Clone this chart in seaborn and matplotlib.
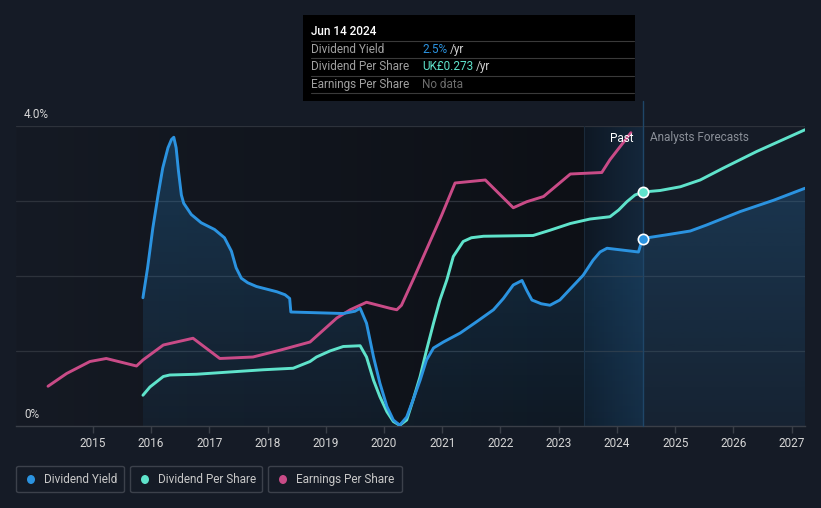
import numpy as np
import pandas as pd
import matplotlib
matplotlib.use("Agg")
import matplotlib.pyplot as plt
import seaborn as sns
from matplotlib.colors import to_rgb
from matplotlib.patches import FancyBboxPatch, Rectangle, Ellipse

# ---------------- data ----------------
yield_years = [2015.86, 2015.94, 2016.03, 2016.12, 2016.20, 2016.29, 2016.35, 2016.39, 2016.43,
               2016.47, 2016.52, 2016.56, 2016.69, 2016.86, 2017.09, 2017.26, 2017.38, 2017.46,
               2017.55, 2017.66, 2017.81, 2018.16, 2018.30, 2018.38, 2018.40, 2019.30, 2019.50,
               2019.59, 2019.70, 2019.82, 2019.93, 2020.05, 2020.16, 2020.27, 2020.39, 2020.50,
               2020.62, 2020.73, 2020.85, 2021.02, 2021.31, 2021.59, 2021.88, 2022.05, 2022.22,
               2022.37, 2022.45, 2022.54, 2022.70, 2022.85, 2023.02, 2023.42, 2023.59, 2023.71,
               2023.83, 2024.37, 2024.44, 2024.86, 2025.26, 2025.54, 2026.12, 2026.69, 2027.23]
yield_vals = [1.71, 2.11, 2.64, 3.08, 3.44, 3.71, 3.82, 3.85, 3.71,
              3.40, 3.08, 2.97, 2.82, 2.71, 2.62, 2.51, 2.33, 2.11,
              1.97, 1.91, 1.86, 1.79, 1.75, 1.70, 1.52, 1.50, 1.53,
              1.57, 1.37, 0.92, 0.57, 0.26, 0.08, 0.01, 0.12, 0.35,
              0.61, 0.88, 1.04, 1.12, 1.24, 1.39, 1.55, 1.70, 1.88,
              1.94, 1.81, 1.68, 1.63, 1.61, 1.68, 2.01, 2.21, 2.32,
              2.37, 2.32, 2.50, 2.55, 2.60, 2.68, 2.86, 3.01, 3.17]

dps_years = [2015.86, 2015.98, 2016.21, 2016.32, 2016.78, 2017.35, 2017.93, 2018.44, 2018.73,
             2018.84, 2019.07, 2019.30, 2019.59, 2019.70, 2019.82, 2019.93, 2020.05, 2020.16,
             2020.27, 2020.39, 2020.50, 2020.62, 2020.73, 2020.85, 2020.96, 2021.08, 2021.19,
             2021.36, 2021.50, 2021.71, 2022.56, 2022.85, 2023.20, 2023.54, 2023.88, 2024.03,
             2024.17, 2024.31, 2024.45, 2024.74, 2025.09, 2025.43, 2025.83, 2026.40, 2027.23]
dps_vals = [0.41, 0.52, 0.66, 0.68, 0.69, 0.72, 0.75, 0.77, 0.86,
            0.92, 1.00, 1.06, 1.07, 0.92, 0.61, 0.39, 0.19, 0.06,
            0.01, 0.08, 0.35, 0.66, 1.01, 1.37, 1.68, 1.95, 2.26,
            2.46, 2.51, 2.53, 2.54, 2.61, 2.70, 2.76, 2.79, 2.88,
            2.99, 3.08, 3.12, 3.14, 3.19, 3.28, 3.44, 3.66, 3.95]

eps_years = [2014.23, 2014.55, 2014.95, 2015.23, 2015.75, 2015.86, 2016.21, 2016.72, 2017.18,
             2017.75, 2018.21, 2018.73, 2019.19, 2019.42, 2019.70, 2020.10, 2020.22, 2020.30,
             2020.50, 2020.99, 2021.22, 2021.74, 2022.22, 2022.45, 2022.74, 2023.20, 2023.74,
             2023.88, 2024.24]
eps_vals = [0.53, 0.70, 0.86, 0.90, 0.80, 0.88, 1.08, 1.17, 0.90,
            0.92, 1.01, 1.12, 1.44, 1.55, 1.65, 1.57, 1.55, 1.61,
            1.95, 2.81, 3.24, 3.28, 2.91, 2.99, 3.06, 3.36, 3.38,
            3.55, 3.91]

series_names = ["Dividend Yield", "Dividend Per Share", "Earnings Per Share"]
series_colors = ["#2b93e0", "#5fe3cb", "#c94b87"]
x_ticks = list(range(2015, 2028))
now_year = 2024.45
past_start = 2023.44
marker_yield = 2.50
marker_dps = 3.12

tooltip_date = "Jun 14 2024"
tooltip_rows = [("Dividend Yield", "2.5%", "/yr"),
                ("Dividend Per Share", "UK£0.273", "/yr"),
                ("Earnings Per Share", "No data", "")]

# ---------------- styling ----------------
BG = "#151b26"
sns.set_theme(style="dark", rc={"axes.facecolor": BG, "figure.facecolor": BG})
plt.rcParams["font.family"] = ["Roboto", "DejaVu Sans"]

W, H = 821, 508
fig = plt.figure(figsize=(W / 100, H / 100), dpi=100)
fig.patch.set_facecolor(BG)

def px(x, y):
    return (x / W, 1 - y / H)

ax_l, ax_r, ax_t, ax_b = 16, 805, 126, 426
ax = fig.add_axes([ax_l / W, 1 - ax_b / H, (ax_r - ax_l) / W, (ax_b - ax_t) / H])
ax.set_facecolor(BG)
XMIN, XMAX = 2013.68, 2027.23
YMIN, YMAX = 0, 4.0

# background gradient in the past region (bg -> darker)
c1, c2 = np.array(to_rgb("#151a24")), np.array(to_rgb("#0d1016"))
t = np.linspace(0, 1, 256)[None, :, None]
ax.imshow(c1 + (c2 - c1) * t, extent=[XMIN, past_start, YMIN, YMAX], aspect="auto", zorder=0, origin="lower")
c3, c4 = np.array(to_rgb("#0e1824")), np.array(to_rgb("#14273b"))
ax.imshow(c3 + (c4 - c3) * t, extent=[past_start, now_year, YMIN, YMAX], aspect="auto", zorder=0, origin="lower")

for gy in [1, 2, 3, 4]:
    ax.axhline(gy, color="#2d323b", lw=0.9, zorder=1)

# filled area under the dividend yield (vertical gradient)
poly = ax.fill_between(yield_years, yield_vals, 0, color="none", lw=0, zorder=2)
blue = np.array(to_rgb(series_colors[0]))
rgba = np.zeros((256, 1, 4))
rgba[..., :3] = blue
rgba[..., 3] = np.linspace(0.07, 0.26, 256)[:, None]
im = ax.imshow(rgba, extent=[XMIN, XMAX, YMIN, YMAX], aspect="auto", origin="lower", zorder=2)
im.set_clip_path(poly.get_paths()[0], transform=ax.transData)

df = pd.concat([
    pd.DataFrame({"year": yield_years, "value": yield_vals, "series": series_names[0]}),
    pd.DataFrame({"year": dps_years, "value": dps_vals, "series": series_names[1]}),
    pd.DataFrame({"year": eps_years, "value": eps_vals, "series": series_names[2]}),
])
sns.lineplot(data=df, x="year", y="value", hue="series", palette=dict(zip(series_names, series_colors)),
             hue_order=series_names[::-1], sort=True, estimator=None, lw=2.1, legend=False, ax=ax, zorder=4)
for ln in ax.lines:
    ln.set_solid_joinstyle("round")
    ln.set_solid_capstyle("round")

ax.axvline(past_start, color="#1a2a3a", lw=0.8, zorder=1)
ax.plot([now_year, now_year], [0, (ax_b - 101) / 75], color="#1f4668", lw=1, zorder=3, clip_on=False)

ax.scatter([now_year], [marker_dps], s=55, color=series_colors[1], edgecolor="white", lw=1.2, zorder=6)
ax.scatter([now_year], [marker_yield], s=55, color=series_colors[0], edgecolor="white", lw=1.2, zorder=6)

ax.set_xlim(XMIN, XMAX)
ax.set_ylim(YMIN, YMAX)
ax.set_xticks(x_ticks)
ax.set_xticklabels([str(v) for v in x_ticks])
ax.set_yticks([])
ax.set_xlabel("")
ax.set_ylabel("")
for s in ["top", "left", "right"]:
    ax.spines[s].set_visible(False)
ax.spines["bottom"].set_color("#3a3f48")
ax.spines["bottom"].set_linewidth(1)
ax.tick_params(axis="x", colors="#3a3f48", length=5, width=1, bottom=True, labelcolor="#d6d6d6",
               labelsize=8.5, pad=3)
ax.grid(False)

fig.text(*px(24, 114), "4.0%", color="#d6d6d6", fontsize=8.5, va="center", ha="left")
fig.text(*px(24, 414), "0%", color="#d6d6d6", fontsize=8.5, va="center", ha="left")

fig.text(*px(633, 138), "Past", color="white", fontsize=8.5, va="center", ha="right")
fig.text(*px(650, 138), "Analysts Forecasts", color="#8a8f98", fontsize=8.5, va="center", ha="left")

# tooltip
fig.patches.append(Rectangle(px(303, 101), (635 - 303) / W, (101 - 15) / H, transform=fig.transFigure,
                             facecolor="#000000", edgecolor="none", zorder=10))
fig.text(*px(311, 31.5), tooltip_date, color="white", fontsize=8.5, va="center", ha="left",
         fontweight="medium", zorder=11)
for ly in [41, 58.3, 76, 93.3]:
    fig.lines.append(plt.Line2D([311 / W, 634 / W], [1 - ly / H, 1 - ly / H], transform=fig.transFigure,
                                color="#3a3a3a", lw=0.8, zorder=11))
val_colors = [series_colors[0], series_colors[1], "#6d6d6d"]
fig.canvas.draw()
renderer = fig.canvas.get_renderer()
for i, (lab, val, unit) in enumerate(tooltip_rows):
    yy = [49.5, 66.5, 84.3][i]
    fig.text(*px(311, yy), lab, color="#a0a0a0", fontsize=8.5, va="center", ha="left", zorder=11)
    vt = fig.text(*px(422, yy), val, color=val_colors[i], fontsize=8.5, va="center", ha="left", zorder=11)
    if unit:
        x1 = vt.get_window_extent(renderer).x1
        fig.text((x1 + 3) / W, 1 - yy / H, unit, color="#d0d0d0", fontsize=8.5, va="center", ha="left",
                 zorder=11)

# legend boxes
boxes = [(16, 125), (130, 263), (268, 403)]
for (x0, x1), name, col in zip(boxes, series_names, series_colors):
    fig.patches.append(FancyBboxPatch(px(x0 + 0.5, 492.5), (x1 - x0 - 1) / W, 26 / H,
                                      boxstyle="round,pad=0,rounding_size=0.003", transform=fig.transFigure,
                                      facecolor="none", edgecolor="#3c414b", lw=1, zorder=10))
    fig.patches.append(Ellipse(px(x0 + 15, 479.5), 8 / W, 9 / H, transform=fig.transFigure,
                               facecolor=col, edgecolor="none", zorder=11))
    fig.text(*px(x0 + 28, 479.5), name, color="#c8c8c8", fontsize=8.5, va="center", ha="left", zorder=11)

fig.savefig("out.png", dpi=100, facecolor=BG)
